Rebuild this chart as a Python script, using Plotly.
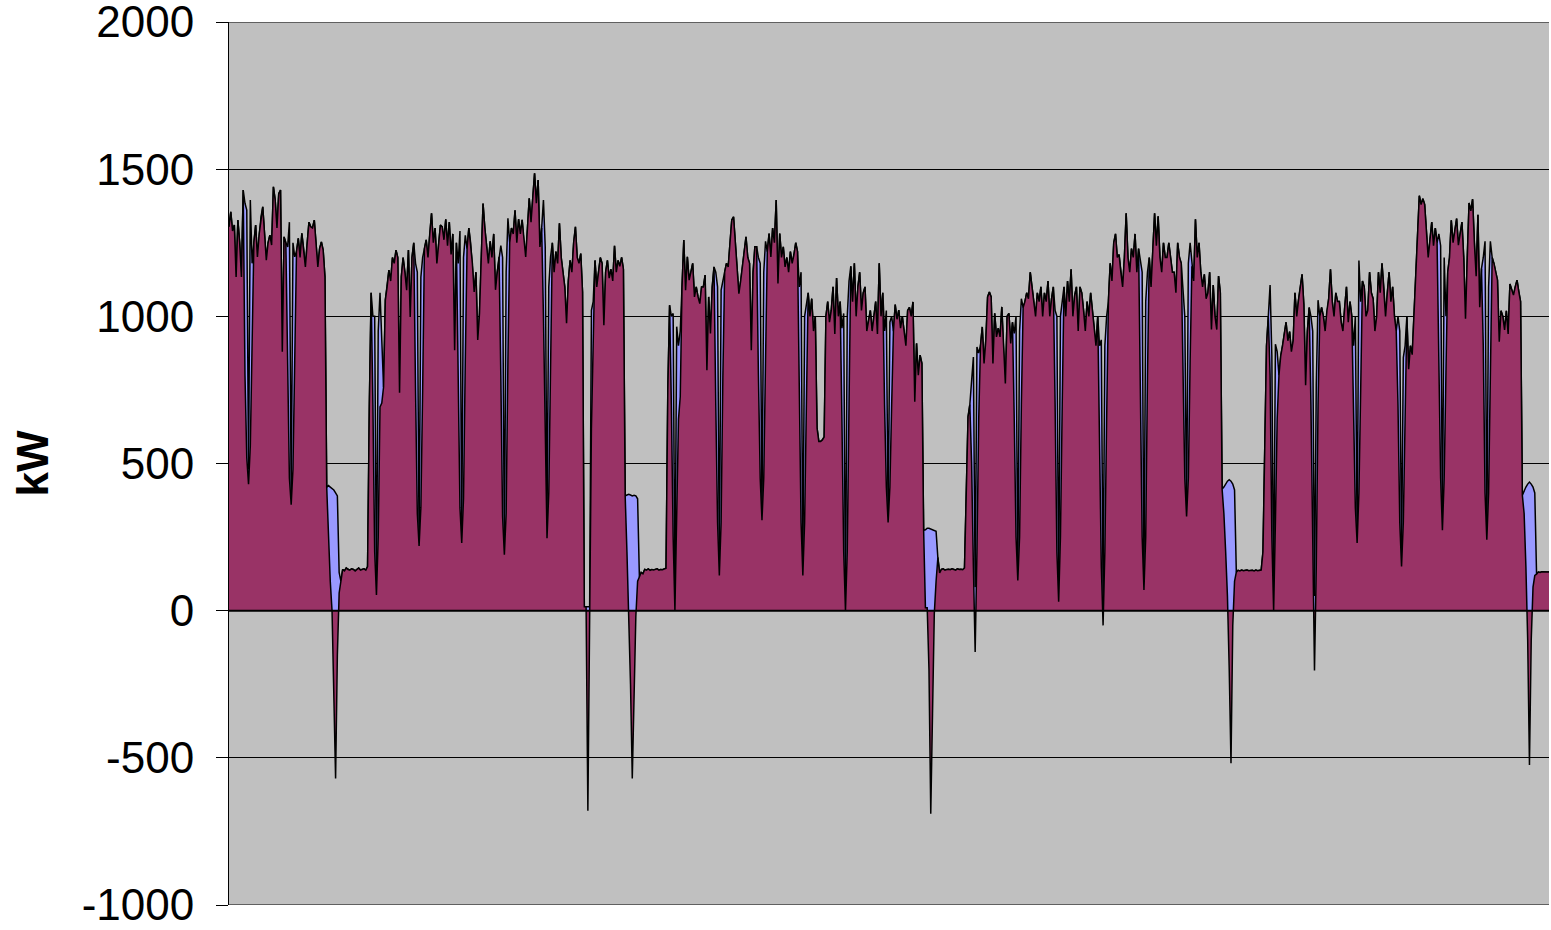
import plotly.graph_objects as go

# Hourly load (kW) - one month, hour index 0..743
load_week1 = [
    1304, 1355, 1290, 1310, 1134, 1327, 1250, 1134, 1429, 1384, 1361, 480, 1395, 1180, 1250, 1310, 1202, 1280, 1338, 1372, 1282, 1191, 1250, 1276,
    1242, 1440, 1395, 1300, 1417, 1429, 880, 1270, 1250, 1236, 1320, 380, 1250, 1202, 1220, 1265, 1200, 1282, 1230, 1168, 1248, 1320, 1304, 1300,
    1327, 1250, 1168, 1230, 1253, 1225, 1134, 420, 425, 420, 415, 410, 400, 390, 130, 100, 140, 135, 145, 140, 138, 142, 140, 135,
    140, 145, 138, 140, 142, 138, 150, 700, 1080, 1000, 1000, 80, 950, 1080, 900, 760, 1055, 1100, 1157, 1120, 1200, 1180, 1225, 1200,
    740, 1134, 1200, 1150, 1089, 1225, 998, 1200, 1250, 1180, 1150, 230, 1133, 1200, 1230, 1260, 1200, 1280, 1350, 1250, 1300, 1180, 1250, 1310,
    1304, 1260, 1330, 1240, 1320, 1210, 1280, 885, 1250, 1180, 1290, 250, 1200, 1275, 1230, 1300, 1250, 1180, 1083, 1150, 920, 1010, 1200, 1383,
    1300, 1236, 1180, 1255, 1200, 1280, 1090, 1150, 1202, 1240, 1200, 200, 1150, 1333, 1250, 1300, 1280, 1360, 1250, 1330, 1280, 1328, 1250, 1202,
]
load_week2 = [
    1300, 1401, 1320, 1420, 1486, 1384, 1463, 1236, 1300, 1395, 1236, 300, 1100, 1202, 1250, 1150, 1220, 1180, 1316, 1200, 1150, 1100, 977, 1120,
    1190, 1150, 1250, 1304, 1200, 1180, 1213, 1083, 13, 13, 13, 13, 1020, 1050, 1190, 1100, 1150, 1200, 1180, 970, 1150, 1190, 1130, 1160,
    1120, 1240, 1150, 1190, 1170, 1200, 1160, 390, 393, 395, 393, 390, 392, 390, 380, 115, 130, 125, 140, 138, 142, 137, 140, 138,
    140, 142, 138, 140, 139, 141, 144, 750, 1038, 1000, 1010, 40, 965, 900, 950, 1100, 1259, 1089, 1202, 1123, 1150, 1180, 1066, 1100,
    1066, 1043, 1100, 1100, 1140, 817, 1066, 942, 1100, 1168, 1150, 1100, 150, 1089, 1120, 1150, 1180, 1168, 1250, 1327, 1338, 1248, 1180, 1077,
    1120, 1168, 1220, 1270, 1200, 1180, 885, 1150, 1236, 1236, 1200, 1180, 330, 1150, 1255, 1220, 1281, 1202, 1300, 1250, 1395, 1112, 1281, 1200,
    1236, 1168, 1200, 1150, 1220, 1180, 1210, 1250, 1220, 1100, 1150, 140, 1000, 1050, 1080, 1000, 1060, 950, 1000, 620, 575, 575, 580, 590,
]
load_week3 = [
    1000, 1050, 980, 1020, 1100, 940, 1130, 1000, 1050, 960, 1010, 20, 1000, 1120, 1170, 1050, 1180, 1000, 1100, 1150, 1020, 1080, 1100, 950,
    980, 1020, 950, 1000, 1050, 940, 1180, 1000, 1080, 950, 1020, 320, 980, 1000, 950, 1040, 990, 1021, 960, 1000, 953, 900, 1020, 1030,
    1000, 1049, 710, 908, 800, 868, 840, 273, 275, 280, 280, 278, 275, 273, 270, 180, 128, 140, 142, 138, 140, 141, 139, 142,
    140, 138, 142, 140, 141, 139, 145, 400, 659, 700, 772, 862, 80, 896, 875, 900, 964, 840, 919, 1066, 1083, 1066, 840, 1010,
    930, 960, 930, 1032, 885, 772, 1000, 1010, 908, 980, 942, 1000, 120, 950, 1060, 1030, 1050, 1080, 1060, 1150, 1100, 1050, 1000, 1080,
    1050, 1100, 1000, 1080, 1050, 1120, 1000, 1060, 1100, 1020, 1000, 50, 1000, 1050, 1100, 1000, 1120, 1050, 1160, 1000, 1070, 1100, 950, 1100,
    1080, 1020, 950, 1050, 1000, 1080, 1020, 950, 900, 1000, 900, 920, 40, 900, 1000, 1050, 1180, 1120, 1250, 1280, 1200, 1210, 1150, 1100,
]
load_week4 = [
    1200, 1350, 1200, 1150, 1230, 1200, 1280, 1150, 1230, 1180, 1150, 90, 1050, 1150, 1200, 1100, 1250, 1350, 1240, 1340, 1200, 1150, 1250, 1200,
    1200, 1250, 1200, 1150, 1150, 1080, 1250, 1200, 1180, 1100, 1000, 340, 1180, 1250, 1170, 1120, 1330, 1200, 1250, 1150, 1100, 1143, 1060, 1080,
    1150, 955, 1106, 1000, 955, 1137, 1080, 413, 420, 430, 440, 445, 440, 430, 410, 131, 137, 135, 138, 136, 137, 138, 136, 137,
    137, 135, 138, 136, 137, 138, 200, 600, 900, 1000, 1106, 866, 30, 905, 880, 800, 866, 900, 950, 980, 917, 948, 880, 917,
    1080, 1000, 1055, 1100, 1143, 1040, 766, 950, 1030, 1000, 950, 50, 766, 1055, 1000, 1030, 1000, 950, 1020, 1060, 1160, 1050, 1000, 1080,
    1050, 1050, 980, 950, 1030, 1100, 980, 1050, 1000, 900, 1000, 250, 1190, 1050, 1120, 1100, 1000, 1020, 1150, 1080, 1060, 950, 1000, 1150,
    1080, 1180, 1100, 1000, 1080, 1150, 1050, 1100, 1000, 950, 1000, 950, 170, 860, 900, 1000, 820, 900, 870, 1000, 1150, 1280, 1410, 1380,
]
load_week5 = [
    1400, 1380, 1300, 1200, 1260, 1320, 1240, 1300, 1250, 1280, 1240, 290, 1200, 1000, 1150, 1200, 1326, 1250, 1292, 1332, 1242, 1280, 1320, 1200,
    992, 1200, 1385, 1358, 1398, 1250, 1136, 1345, 1031, 1162, 1200, 1255, 260, 1100, 1255, 1200, 1180, 1150, 1123, 914, 1019, 1000, 954, 1019,
    940, 1110, 1090, 1072, 1100, 1123, 1084, 1050, 392, 410, 420, 430, 437, 430, 420, 400, 124, 131, 130, 132, 131, 130, 131, 131,
]

# Net load (kW) where it differs from the load, by hour index
net_override_kw = {
    9: 800, 10: 520, 11: 430, 12: 560, 13: 850,
    33: 800, 34: 450, 35: 360, 36: 480, 37: 850,
    56: 250, 57: 100, 58: 0, 59: -250, 60: -570, 61: -150, 62: 60,
    81: 700, 82: 200, 83: 53, 84: 250, 85: 692, 86: 705,
    105: 750, 106: 330, 107: 220, 108: 350, 109: 750,
    129: 800, 130: 350, 131: 230, 132: 380, 133: 850,
    153: 800, 154: 320, 155: 190, 156: 330, 157: 850,
    177: 1000, 178: 570, 179: 246, 180: 400, 181: 850,
    202: -680, 204: 620, 205: 909,
    224: 200, 225: 0, 226: -250, 227: -570, 228: -300, 229: -20, 230: 100,
    249: 700, 250: 250, 251: 0, 252: 300, 253: 650, 254: 727,
    274: 700, 275: 300, 276: 120, 277: 300, 278: 800,
    298: 800, 299: 450, 300: 307, 301: 450, 302: 850,
    321: 700, 322: 300, 323: 120, 324: 300, 325: 700,
    345: 650, 346: 200, 347: 0, 348: 200, 349: 700,
    369: 700, 370: 420, 371: 300, 372: 420, 373: 700,
    392: 10, 393: 10, 394: -200, 395: -690, 396: -350, 397: -10, 398: 100,
    418: 500, 419: 150, 420: -140, 421: 200, 422: 650,
    442: 650, 443: 250, 444: 103, 445: 250, 446: 700,
    465: 700, 466: 200, 467: 30, 468: 250, 469: 700,
    490: 600, 491: 150, 492: -50, 493: 200, 494: 650,
    513: 800, 514: 250, 515: 70, 516: 250, 517: 800,
    537: 750, 538: 450, 539: 320, 540: 450, 541: 850,
    560: 330, 561: 200, 562: 50, 563: -200, 564: -518, 565: -50, 566: 100,
    586: 800, 587: 250, 588: 0, 589: 300, 590: 652,
    609: 700, 610: 150, 611: -203, 612: 150, 613: 700,
    633: 650, 634: 350, 635: 230, 636: 400, 637: 750,
    658: 700, 659: 300, 660: 150, 661: 300, 662: 650,
    681: 900, 682: 450, 683: 273, 684: 450, 685: 810,
    706: 900, 707: 400, 708: 241, 709: 400, 710: 900,
    729: 330, 730: 150, 731: -100, 732: -524, 733: -100, 734: 80, 735: 120,
}

y_ticks = [-1000, -500, 0, 500, 1000, 1500, 2000]

load_kw = load_week1 + load_week2 + load_week3 + load_week4 + load_week5
hours = list(range(len(load_kw)))
net_kw = [net_override_kw.get(i, v) for i, v in enumerate(load_kw)]

fig = go.Figure()
fig.add_trace(go.Scatter(
    x=hours, y=load_kw, mode="lines", fill="tozeroy",
    fillcolor="#9999FF", line=dict(color="#000000", width=1.5),
    hoverinfo="skip", showlegend=False,
))
fig.add_trace(go.Scatter(
    x=hours, y=net_kw, mode="lines", fill="tozeroy",
    fillcolor="#993366", line=dict(color="#000000", width=1.5),
    hoverinfo="skip", showlegend=False,
))

# zero baseline of the areas and the plot-area top/bottom grid edges
fig.add_shape(type="line", xref="paper", yref="y", x0=0, x1=1, y0=0, y1=0,
              line=dict(color="#000000", width=2), layer="above")
for edge in (y_ticks[0], y_ticks[-1]):
    fig.add_shape(type="line", xref="paper", yref="y", x0=0, x1=1, y0=edge, y1=edge,
                  line=dict(color="#000000", width=1), layer="above")

fig.add_annotation(
    text="<b>kW</b>", xref="paper", yref="paper", x=-0.1485, y=0.5,
    xanchor="center", yanchor="middle", textangle=-90, showarrow=False,
    font=dict(family="Liberation Sans, Arial, sans-serif", size=44, color="#000000"),
)

fig.update_layout(
    width=1551, height=930,
    margin=dict(l=229, r=2, t=22, b=25, autoexpand=False),
    paper_bgcolor="#FFFFFF", plot_bgcolor="#C0C0C0",
    xaxis=dict(range=[0, len(load_kw) - 1], visible=False, showgrid=False, zeroline=False),
    yaxis=dict(
        range=[-1000, 2000], tickvals=y_ticks, ticktext=[str(v) for v in y_ticks],
        automargin=False, ticklabeloverflow="allow",
        showgrid=True, gridcolor="#000000", gridwidth=1, zeroline=False,
        showline=True, linecolor="#000000", linewidth=1,
        ticks="outside", ticklen=12, tickcolor="#000000", tickwidth=1,
        ticklabelstandoff=13,
        tickfont=dict(family="Liberation Sans, Arial, sans-serif", size=44, color="#000000"),
    ),
)

fig.write_html(
    "out.html",
    config={"displayModeBar": False, "staticPlot": True},
    post_script="document.body.style.margin='0';document.body.style.padding='0';"
                "document.documentElement.style.overflow='hidden';",
)
